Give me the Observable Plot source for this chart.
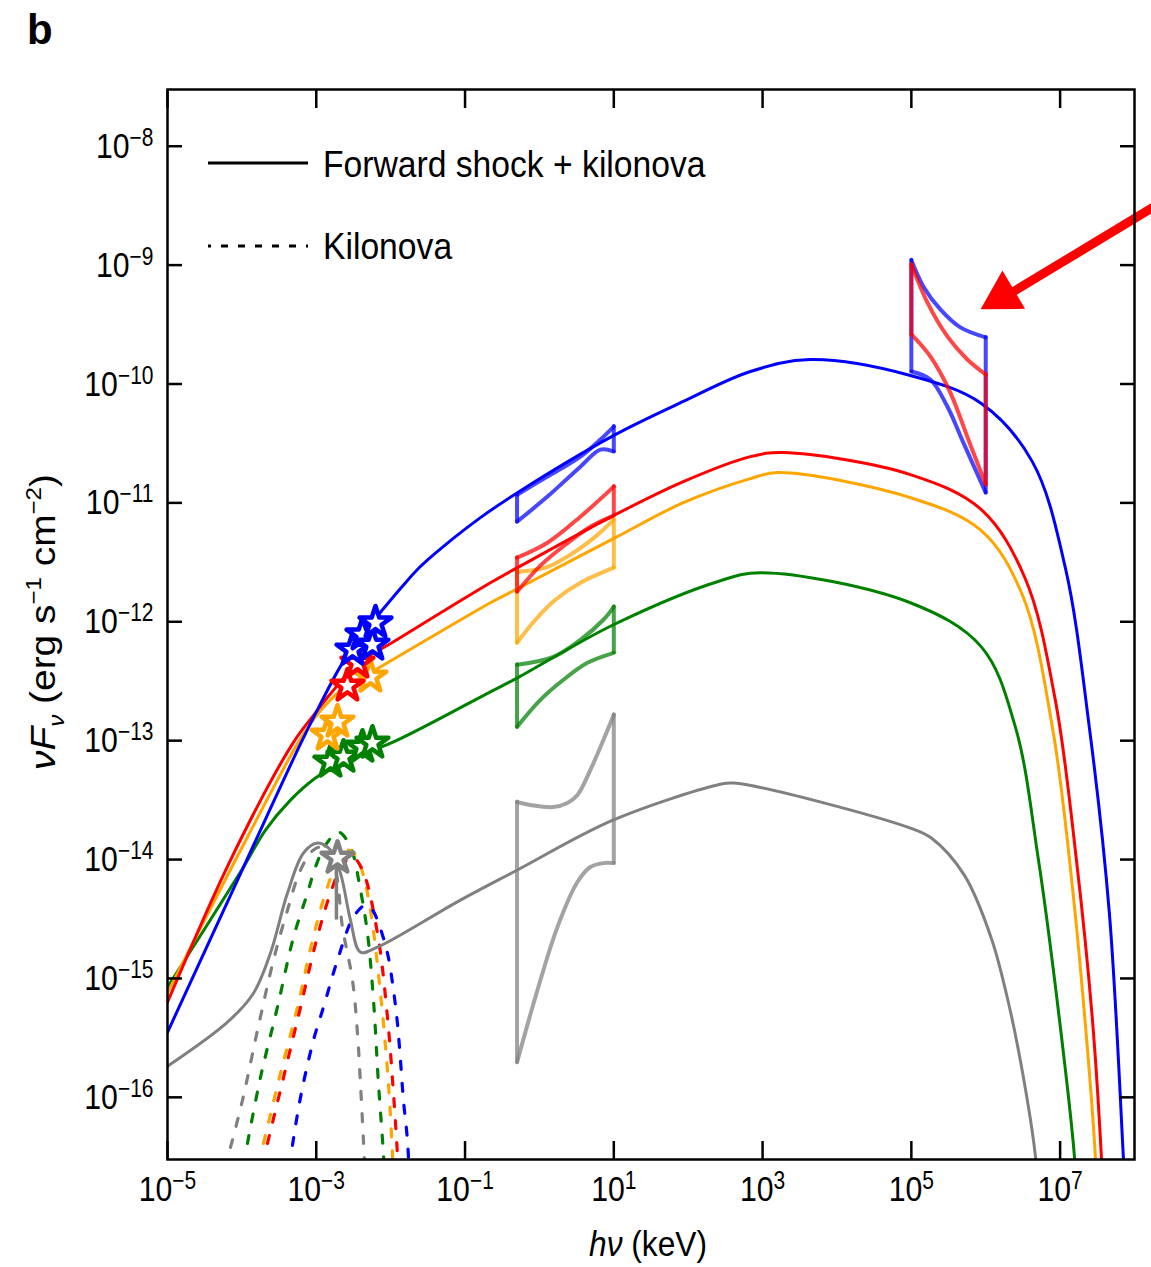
<!DOCTYPE html>
<html>
<head>
<meta charset="utf-8">
<script src="https://cdn.jsdelivr.net/npm/d3@7"></script>
<script src="https://cdn.jsdelivr.net/npm/@observablehq/plot@0.6"></script>
<style>
  html, body { margin: 0; padding: 0; background: #fff; }
  #chart svg { display: block; }
</style>
</head>
<body>
<div id="chart"></div>
<script>
// ---------- DATA (log10 of hν in keV, log10 of νFν in erg s^-1 cm^-2) ----------
const xDomain = [1e-5, 1e8];
const yDomain = [3e-17, 3e-8];
const xTicks = [1e-5, 1e-3, 1e-1, 1e1, 1e3, 1e5, 1e7];
const yTicks = [1e-8, 1e-9, 1e-10, 1e-11, 1e-12, 1e-13, 1e-14, 1e-15, 1e-16];

const seriesOrder = ["gray", "green", "orange", "red", "blue"];
const seriesColor = {blue: "#0000ff", red: "#ff0000", orange: "#ffa500", green: "#008000", gray: "#808080"};

// Forward shock + kilonova (solid)
const fsBlue = [[-5,-15.453],[-3.978,-14.063],[-3.212,-13.027],[-2.944,-12.69],[-2.675,-12.375],[-2.42,-12.135],[-2.177,-11.95],[-1.868,-11.72],[-1.6,-11.535],[-1.196,-11.318],[-0.793,-11.124],[-0.296,-10.914],[0.995,-10.434],[1.935,-10.147],[2.836,-9.895],[3.642,-9.794],[4.987,-9.928],[5.941,-10.164],[6.626,-10.653],[7.07,-11.545],[7.392,-12.884],[7.661,-14.442],[7.849,-16.488],[7.88,-16.87]];
const fsRed = [[-5,-15.2],[-4.153,-14.004],[-3.32,-13.027],[-3.011,-12.766],[-2.809,-12.606],[-2.446,-12.354],[-1.962,-12.168],[-0.659,-11.672],[-0.296,-11.545],[0.995,-11.107],[1.935,-10.821],[2.836,-10.611],[3.28,-10.577],[4.987,-10.762],[5.941,-11.057],[6.532,-11.638],[6.935,-12.657],[7.218,-13.996],[7.433,-15.335],[7.554,-16.488],[7.58,-16.87]];
const fsOrange = [[-5,-15.124],[-4.086,-14.004],[-3.253,-13.027],[-3.011,-12.8],[-2.809,-12.657],[-2.608,-12.547],[-2.272,-12.429],[-0.659,-11.84],[-0.296,-11.722],[0.995,-11.301],[1.935,-10.998],[2.836,-10.796],[3.199,-10.745],[4.987,-10.956],[5.941,-11.234],[6.492,-11.773],[6.895,-12.884],[7.164,-14.223],[7.392,-15.781],[7.473,-16.488],[7.5,-16.87]];
const fsGreen = [[-5,-15.074],[-3.978,-14.063],[-3.683,-13.752],[-3.347,-13.5],[-3.011,-13.314],[-2.675,-13.187],[-1.962,-13.011],[-0.659,-12.589],[-0.296,-12.472],[0.995,-12.025],[2.392,-11.663],[2.97,-11.587],[4.987,-11.84],[5.941,-12.211],[6.398,-12.884],[6.707,-13.996],[6.989,-15.335],[7.191,-16.488],[7.22,-16.87]];
const fsGray = [[-5,-15.739],[-4.194,-15.368],[-3.844,-15.124],[-3.616,-14.787],[-3.387,-14.282],[-3.172,-13.945],[-2.984,-13.861],[-2.809,-13.92],[-2.675,-14.114],[-2.54,-14.509],[-2.406,-14.779],[-2.177,-14.737],[-1.062,-14.341],[-0.296,-14.088],[0.995,-13.667],[2.392,-13.373],[2.608,-13.356],[4.987,-13.735],[5.269,-13.819],[5.712,-14.131],[6.075,-14.661],[6.304,-15.2],[6.492,-15.781],[6.667,-16.488],[6.71,-16.87]];

// Kilonova (dashed)
const knGray = [[-4.153,-16.421],[-3.992,-16.025],[-3.79,-15.436],[-3.575,-14.846],[-3.387,-14.425],[-3.212,-14.088],[-3.038,-13.92],[-2.876,-13.895],[-2.742,-14.088],[-2.648,-14.568],[-2.513,-15.015],[-2.446,-15.461],[-2.406,-15.882],[-2.366,-16.362],[-2.339,-16.699]];
const knGreen = [[-3.925,-16.387],[-3.75,-15.832],[-3.522,-15.242],[-3.306,-14.653],[-3.118,-14.282],[-3.011,-14.063],[-2.876,-13.878],[-2.702,-13.768],[-2.54,-13.895],[-2.406,-14.257],[-2.312,-14.619],[-2.231,-15.183],[-2.164,-15.882],[-2.097,-16.472],[-2.07,-16.78]];
const knOrange = [[-3.71,-16.387],[-3.481,-15.798],[-3.253,-15.242],[-3.051,-14.678],[-2.876,-14.282],[-2.715,-14.021],[-2.581,-13.92],[-2.473,-13.962],[-2.379,-14.105],[-2.272,-14.425],[-2.137,-15.124],[-2.03,-15.882],[-1.976,-16.472],[-1.95,-16.78]];
const knRed = [[-3.656,-16.387],[-3.427,-15.798],[-3.212,-15.242],[-2.997,-14.678],[-2.809,-14.282],[-2.648,-14.046],[-2.513,-13.979],[-2.379,-14.088],[-2.177,-14.619],[-2.043,-15.326],[-1.962,-15.966],[-1.909,-16.472],[-1.88,-16.78]];
const knBlue = [[-3.32,-16.404],[-3.212,-16.0],[-3.038,-15.52],[-2.903,-15.242],[-2.715,-14.846],[-2.5,-14.484],[-2.339,-14.383],[-2.245,-14.425],[-2.164,-14.535],[-2.043,-14.787],[-1.962,-15.099],[-1.909,-15.377],[-1.868,-15.688],[-1.828,-16.025],[-1.774,-16.362],[-1.747,-16.699]];

// Optical data (stars)
const starsBlue = [[-2.513,-12.236],[-2.379,-12.109],[-2.245,-12.194],[-2.204,-12.008]];
const starsRed = [[-2.581,-12.539],[-2.446,-12.345]];
const starsOrange = [[-2.849,-12.952],[-2.715,-12.842],[-2.272,-12.463]];
const starsGreen = [[-2.809,-13.179],[-2.634,-13.137],[-2.379,-13.053],[-2.245,-13.019]];
const starsGray = [[-2.715,-13.987]];
const grayDrop = [[-2.729,-14.021,-14.509]]; // x, y1, y2

// X-ray butterflies (0.5-10 keV): upper and lower envelopes
const xrBlueUp = [[-0.301,-10.931],[0.108,-10.779],[0.551,-10.611],[0.82,-10.467],[1.0,-10.358]];
const xrBlueLo = [[-0.301,-11.158],[0.108,-10.947],[0.551,-10.695],[0.82,-10.552],[1.0,-10.568]];
const xrRedUp = [[-0.301,-11.461],[0.108,-11.335],[0.551,-11.116],[1.0,-10.863]];
const xrRedLo = [[-0.301,-11.747],[0.013,-11.528],[0.349,-11.352],[0.685,-11.2],[1.0,-11.107]];
const xrOrangeUp = [[-0.301,-11.579],[0.081,-11.545],[0.417,-11.436],[0.753,-11.284],[1.0,-11.141]];
const xrOrangeLo = [[-0.301,-12.177],[-0.054,-11.983],[0.215,-11.815],[0.551,-11.672],[1.0,-11.545]];
const xrGreenUp = [[-0.301,-12.362],[0.188,-12.295],[0.551,-12.152],[0.86,-11.983],[1.0,-11.874]];
const xrGreenLo = [[-0.301,-12.884],[0.013,-12.657],[0.323,-12.488],[0.645,-12.345],[1.0,-12.261]];
const xrGrayUp = [[-0.301,-13.516],[-0.121,-13.541],[0.188,-13.558],[0.376,-13.524],[0.511,-13.457],[0.685,-13.246],[0.86,-12.994],[1.0,-12.783]];
const xrGrayLo = [[-0.301,-15.705],[-0.027,-15.099],[0.242,-14.568],[0.511,-14.189],[0.685,-14.063],[0.86,-14.03],[1.0,-14.03]];
// Gamma-ray butterflies (1e5-1e6 keV)
const grBlueUp = [[5,-8.96],[5.161,-9.179],[5.39,-9.373],[5.659,-9.524],[6,-9.608]];
const grBlueLo = [[5,-9.895],[5.255,-9.962],[5.484,-10.189],[5.699,-10.493],[6,-10.914]];
const grRedUp = [[5,-8.994],[5.215,-9.314],[5.484,-9.6],[5.753,-9.794],[6,-9.92]];
const grRedLo = [[5,-9.583],[5.255,-9.768],[5.524,-10.072],[5.766,-10.467],[6,-10.846]];

// Annotation arrow (start, base of head, head centre)
const arrowShaft = [[8.347,-8.477,6.38,-9.22]];
const arrowHead = [[6.228,-9.262]];

// ---------- BUILD ----------
const FONT = "'Liberation Sans', Arial, Helvetica, sans-serif";
const rows = (pts) => pts.map(([e, f]) => ({E: 10 ** e, F: 10 ** f}));
const fs = {blue: fsBlue, red: fsRed, orange: fsOrange, green: fsGreen, gray: fsGray};
const kn = {blue: knBlue, red: knRed, orange: knOrange, green: knGreen, gray: knGray};
const stars = {blue: starsBlue, red: starsRed, orange: starsOrange, green: starsGreen, gray: starsGray};
const butterflies = [
  {c: "gray", up: xrGrayUp, lo: xrGrayLo},
  {c: "green", up: xrGreenUp, lo: xrGreenLo},
  {c: "orange", up: xrOrangeUp, lo: xrOrangeLo},
  {c: "red", up: xrRedUp, lo: xrRedLo},
  {c: "blue", up: xrBlueUp, lo: xrBlueLo},
  {c: "blue", up: grBlueUp, lo: grBlueLo},
  {c: "red", up: grRedUp, lo: grRedLo}
];

const marks = [];
for (const s of seriesOrder) {
  marks.push(Plot.line(rows(kn[s]), {x: "E", y: "F", stroke: seriesColor[s], strokeWidth: 3.2,
    strokeDasharray: "8,14", curve: "catmull-rom", clip: true}));
}
for (const s of seriesOrder) {
  marks.push(Plot.line(rows(fs[s]), {x: "E", y: "F", stroke: seriesColor[s], strokeWidth: 3,
    curve: "catmull-rom", clip: true}));
}
for (const b of butterflies) {
  const st = {stroke: seriesColor[b.c], strokeWidth: 4, strokeOpacity: 0.72, strokeLinecap: "round", strokeLinejoin: "round"};
  marks.push(Plot.line(rows(b.up), {x: "E", y: "F", curve: "catmull-rom", ...st}));
  marks.push(Plot.line(rows(b.lo), {x: "E", y: "F", curve: "catmull-rom", ...st}));
  const edges = [
    {E: 10 ** b.up[0][0], F1: 10 ** b.up[0][1], F2: 10 ** b.lo[0][1]},
    {E: 10 ** b.up[b.up.length - 1][0], F1: 10 ** b.up[b.up.length - 1][1], F2: 10 ** b.lo[b.lo.length - 1][1]}
  ];
  marks.push(Plot.ruleX(edges, {x: "E", y1: "F1", y2: "F2", ...st}));
}
marks.push(Plot.ruleX(grayDrop.map(([x, a, b]) => ({E: 10 ** x, F1: 10 ** a, F2: 10 ** b})),
  {x: "E", y1: "F1", y2: "F2", stroke: seriesColor.gray, strokeWidth: 3.5}));
for (const s of ["gray", "green", "orange", "red", "blue"]) {
  marks.push(Plot.dot(rows(stars[s]), {x: "E", y: "F", symbol: "star", r: 10, fill: "white",
    stroke: seriesColor[s], strokeWidth: 4.5, strokeLinejoin: "round"}));
}
// arrow
marks.push(Plot.link(arrowShaft.map(([a, b, c, d]) => ({x1: 10 ** a, y1: 10 ** b, x2: 10 ** c, y2: 10 ** d})),
  {x1: "x1", y1: "y1", x2: "x2", y2: "y2", stroke: "#ff0000", strokeWidth: 9}));
marks.push(Plot.dot(rows(arrowHead), {x: "E", y: "F", symbol: "triangle", r: 16.5, fill: "#ff0000",
  stroke: "none", rotate: 239.4}));

const fmt = (d) => ("10^" + Math.round(Math.log10(d))).replace("-", "\u2212");

marks.push(
  Plot.axisY({ticks: yTicks, anchor: "left", tickSize: -15, tickPadding: 29, strokeWidth: 2.5, tickFormat: fmt, fontSize: 36, label: null}),
  Plot.axisY({ticks: yTicks, anchor: "right", tickSize: -15, strokeWidth: 2.5, tickFormat: () => "", label: null}),
  Plot.axisX({ticks: xTicks, anchor: "bottom", tickSize: -18, tickPadding: 34, strokeWidth: 2.5, tickFormat: fmt, fontSize: 36, label: null}),
  Plot.axisX({ticks: xTicks, anchor: "top", tickSize: -18, strokeWidth: 2.5, tickFormat: () => "", label: null}),
  Plot.frame({stroke: "black", strokeWidth: 2.5})
);

const plot = Plot.plot({
  width: 1151,
  height: 1267,
  marginLeft: 167, marginRight: 17, marginTop: 89, marginBottom: 108,
  style: {fontFamily: FONT, fontSize: "36px", color: "black", background: "white"},
  x: {type: "log", domain: xDomain, axis: null},
  y: {type: "log", domain: yDomain, axis: null},
  marks
});
document.getElementById("chart").appendChild(plot);

// ---------- TEXT POST-PROCESSING ----------
const svg = d3.select(plot);
svg.selectAll('g[aria-label="y-axis tick label"] text, g[aria-label="x-axis tick label"] text').each(function () {
  const t = d3.select(this);
  const s = t.text();
  if (!s.includes("^")) return;
  const [base, exp] = s.split("^");
  t.text(null);
  t.append("tspan").text(base);
  t.append("tspan").attr("dy", -12).attr("font-size", 25).text(exp);
  t.attr("transform", (t.attr("transform") || "") + " scale(0.84,1)");
});

function rich(sel, parts) {
  let cur = 0;
  for (const p of parts) {
    const ts = sel.append("tspan").text(p.t);
    const target = p.sub ? 9 : p.sup ? -14 : 0;
    if (target !== cur) { ts.attr("dy", target - cur); cur = target; }
    if (p.sub || p.sup) ts.attr("font-size", "0.62em");
    if (p.it) ts.attr("font-style", "italic");
  }
}

// panel letter
svg.append("text").attr("x", 27).attr("y", 44).attr("text-anchor", "start").attr("font-family", FONT).attr("font-size", 42)
  .attr("font-weight", "bold").attr("fill", "black").text("b");

// legend
const lg = svg.append("g").attr("font-family", FONT).attr("fill", "black").attr("text-anchor", "start");
lg.append("line").attr("x1", 208).attr("x2", 308).attr("y1", 163).attr("y2", 163)
  .attr("stroke", "black").attr("stroke-width", 3);
lg.append("text").attr("transform", "translate(323,177) scale(0.91,1)").attr("font-size", 37)
  .text("Forward shock + kilonova");
lg.append("line").attr("x1", 208).attr("x2", 308).attr("y1", 246).attr("y2", 246)
  .attr("stroke", "black").attr("stroke-width", 3).attr("stroke-dasharray", "7,10").attr("stroke-dashoffset", 4);
lg.append("text").attr("transform", "translate(323,259) scale(0.91,1)").attr("font-size", 37)
  .text("Kilonova");

// y label
const yl = svg.append("text").attr("transform", "translate(55,622) rotate(-90) scale(1.08,1)")
  .attr("text-anchor", "middle").attr("font-family", FONT).attr("font-size", 36).attr("fill", "black");
rich(yl, [{t: "\u03bd", it: true}, {t: "F", it: true}, {t: "\u03bd", it: true, sub: true},
  {t: " (erg s"}, {t: "\u22121", sup: true}, {t: " cm"}, {t: "\u22122", sup: true}, {t: ")"}]);

// x label
const xl = svg.append("text").attr("transform", "translate(648,1256) scale(0.88,1)")
  .attr("text-anchor", "middle").attr("font-family", FONT).attr("font-size", 36).attr("fill", "black");
rich(xl, [{t: "h\u03bd", it: true}, {t: " (keV)"}]);
</script>
</body>
</html>
